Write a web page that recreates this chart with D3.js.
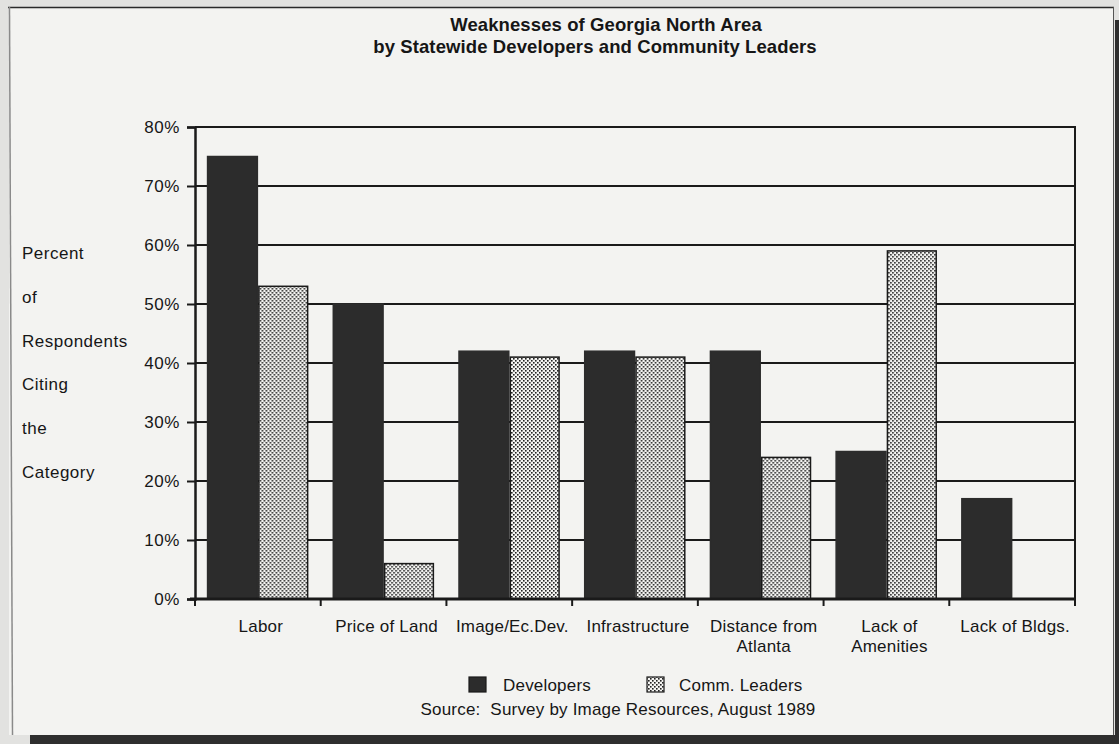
<!DOCTYPE html>
<html>
<head>
<meta charset="utf-8">
<script src="https://cdn.jsdelivr.net/npm/d3@7/dist/d3.min.js"></script>
<style>
  html, body { margin: 0; padding: 0; background: #e4e4e2; }
  svg { display: block; }
  text { font-family: "Liberation Sans", Arial, Helvetica, sans-serif; fill: #161616; }
</style>
</head>
<body>
<svg id="chart" width="1119" height="744"></svg>
<script>
// Survey results: share of respondents citing each weakness
const categories = ["Labor", "Price of Land", "Image/Ec.Dev.", "Infrastructure", "Distance from Atlanta", "Lack of Amenities", "Lack of Bldgs."];
const categoryLines = [["Labor"], ["Price of Land"], ["Image/Ec.Dev."], ["Infrastructure"], ["Distance from", "Atlanta"], ["Lack of", "Amenities"], ["Lack of Bldgs."]];
const seriesNames = ["Developers", "Comm. Leaders"];
const developers = [75, 50, 42, 42, 42, 25, 17];
const commLeaders = [53, 6, 41, 41, 24, 59, 0];
const yTicks = [0, 10, 20, 30, 40, 50, 60, 70, 80];
const yTitleLines = ["Percent", "of", "Respondents", "Citing", "the", "Category"];
const titleLines = ["Weaknesses of Georgia North Area", "by Statewide Developers and Community Leaders"];
const sourceText = "Source:  Survey by Image Resources, August 1989";

const svg = d3.select("#chart");
const W = 1119, H = 744;
const ink = "#1a1a1a";

// Sheet of paper with scanner shadow edges
svg.append("rect").attr("width", W).attr("height", H).attr("fill", "#e2e2e0");
svg.append("rect").attr("x", 30).attr("y", 735).attr("width", W - 30).attr("height", 9).attr("fill", "#2e2e2e");
svg.append("rect").attr("x", 1115).attr("y", 20).attr("width", 4).attr("height", H - 20).attr("fill", "#2e2e2e");
svg.append("rect").attr("x", 9).attr("y", 7).attr("width", 1105).attr("height", 728)
  .attr("fill", "#f3f3f1");
svg.append("line").attr("x1", 8).attr("x2", 1114).attr("y1", 7.5).attr("y2", 7.5)
  .attr("stroke", "#2a2a2a").attr("stroke-width", 1.5);
svg.append("line").attr("x1", 9.5).attr("x2", 12.5).attr("y1", 7).attr("y2", 735)
  .attr("stroke", "#8a8a8a").attr("stroke-width", 1.5);
svg.append("line").attr("x1", 1113.5).attr("x2", 1113.5).attr("y1", 7).attr("y2", 735)
  .attr("stroke", "#555").attr("stroke-width", 1);

// Dot screen used for the community leaders bars
const defs = svg.append("defs");
const pat = defs.append("pattern").attr("id", "dots").attr("patternUnits", "userSpaceOnUse")
  .attr("width", 4).attr("height", 4);
pat.append("rect").attr("width", 4).attr("height", 4).attr("fill", "#f4f4f2");
pat.append("rect").attr("x", 0).attr("y", 0).attr("width", 1.6).attr("height", 1.6).attr("fill", "#222");
pat.append("rect").attr("x", 2).attr("y", 2).attr("width", 1.6).attr("height", 1.6).attr("fill", "#222");

// Scales
const plot = { left: 195, right: 1075, top: 127, bottom: 599 };
const x = d3.scaleBand().domain(categories).range([plot.left, plot.right])
  .paddingInner(0.2).paddingOuter(0.1);
const xs = d3.scaleBand().domain(seriesNames).range([0, x.bandwidth()]);
const y = d3.scaleLinear().domain([0, 80]).range([plot.bottom, plot.top]);

// Title
svg.append("g").selectAll("text").data(titleLines).join("text")
  .attr("x", (d, i) => i === 0 ? 606 : 595)
  .attr("y", (d, i) => 31 + i * 22)
  .attr("text-anchor", "middle")
  .attr("font-size", 18.5).attr("font-weight", "bold").attr("letter-spacing", 0.1)
  .text(d => d);

// Horizontal grid lines
svg.append("g").selectAll("line").data(yTicks.filter(t => t > 0)).join("line")
  .attr("x1", plot.left).attr("x2", plot.right)
  .attr("y1", d => y(d)).attr("y2", d => y(d))
  .attr("stroke", ink).attr("stroke-width", 2);

// Right frame edge
svg.append("line").attr("x1", plot.right).attr("x2", plot.right)
  .attr("y1", plot.top - 1).attr("y2", plot.bottom)
  .attr("stroke", ink).attr("stroke-width", 2);

// Bars
const rows = categories.map((c, i) => ({ cat: c, values: [developers[i], commLeaders[i]] }));
const groups = svg.append("g").selectAll("g").data(rows).join("g")
  .attr("transform", d => `translate(${x(d.cat)},0)`);
groups.selectAll("rect").data(d => d.values.map((v, j) => ({ s: seriesNames[j], v })))
  .join("rect")
  .filter(d => d.v > 0)
  .attr("x", d => xs(d.s) + (d.s === seriesNames[1] ? 1 : 0))
  .attr("width", d => xs.bandwidth() - (d.s === seriesNames[1] ? 1.5 : 0.5))
  .attr("y", d => y(d.v))
  .attr("height", d => y(0) - y(d.v))
  .attr("fill", d => d.s === seriesNames[0] ? "#2c2c2c" : "url(#dots)")
  .attr("stroke", d => d.s === seriesNames[0] ? "#2c2c2c" : ink)
  .attr("stroke-width", 1.5);

// Y axis
const yAxis = d3.axisLeft(y).tickValues(yTicks).tickFormat(d => d + "%").tickSize(8).tickPadding(8);
const gy = svg.append("g").attr("transform", `translate(${plot.left},0)`).call(yAxis);
gy.select(".domain").attr("stroke", ink).attr("stroke-width", 2.5);
gy.selectAll(".tick line").attr("stroke", ink).attr("stroke-width", 2);
gy.selectAll(".tick text").attr("font-size", 17).attr("letter-spacing", 0.6)
  .attr("font-family", "'Liberation Sans', Arial, sans-serif").attr("fill", "#161616")
  .attr("dx", 1);

// X axis with ticks at category boundaries
const boundaries = categories.map(c => x(c) - x.step() * x.paddingInner() / 2);
boundaries[0] = plot.left;
boundaries.push(plot.right);
svg.append("line").attr("x1", plot.left - 5).attr("x2", plot.right)
  .attr("y1", plot.bottom).attr("y2", plot.bottom)
  .attr("stroke", ink).attr("stroke-width", 3);
svg.append("g").selectAll("line").data(boundaries).join("line")
  .attr("x1", d => d).attr("x2", d => d)
  .attr("y1", plot.bottom).attr("y2", plot.bottom + 7)
  .attr("stroke", ink).attr("stroke-width", 2);

// Category labels
const xl = svg.append("g").selectAll("text").data(categories).join("text")
  .attr("text-anchor", "middle")
  .attr("font-size", 17).attr("letter-spacing", 0.2)
  .attr("transform", d => `translate(${x(d) + x.bandwidth() / 2 + 3},632)`);
xl.selectAll("tspan").data((d, i) => categoryLines[i]).join("tspan")
  .attr("x", 0).attr("y", (d, i) => i * 20).text(d => d);

// Y axis title, one word per line
svg.append("g").selectAll("text").data(yTitleLines).join("text")
  .attr("x", 22).attr("y", (d, i) => 259 + i * 43.8)
  .attr("font-size", 17).attr("letter-spacing", 0.5)
  .text(d => d);

// Legend
const legend = svg.append("g");
const legendItems = [
  { name: seriesNames[0], sx: 469, tx: 503, fill: "#2c2c2c" },
  { name: seriesNames[1], sx: 647, tx: 679, fill: "url(#dots)" }
];
legend.selectAll("rect").data(legendItems).join("rect")
  .attr("x", d => d.sx).attr("y", 677).attr("width", 17).attr("height", 15)
  .attr("fill", d => d.fill).attr("stroke", ink).attr("stroke-width", 1.2);
legend.selectAll("text").data(legendItems).join("text")
  .attr("x", d => d.tx).attr("y", 691)
  .attr("font-size", 17).attr("letter-spacing", 0.2)
  .text(d => d.name);

// Source note
svg.append("text").attr("x", 618).attr("y", 715).attr("text-anchor", "middle")
  .attr("font-size", 17).attr("letter-spacing", 0.2)
  .attr("xml:space", "preserve").style("white-space", "pre")
  .text(sourceText);
</script>
</body>
</html>
